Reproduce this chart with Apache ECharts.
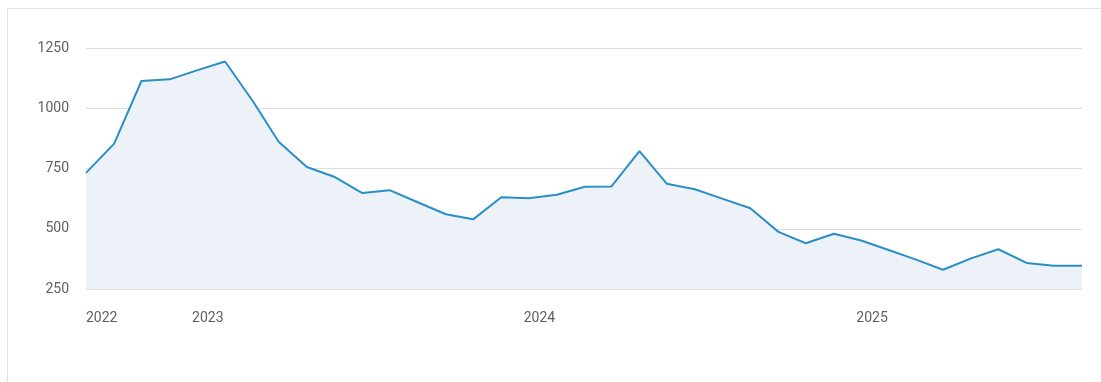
<!DOCTYPE html>
<html>
<head>
<meta charset="utf-8">
<script src="https://cdn.jsdelivr.net/npm/echarts@6/dist/echarts.min.js"></script>
<style>
  html, body { margin: 0; padding: 0; background: #fff; overflow: hidden; }
  #frame { position: absolute; left: 7px; top: 8px; width: 1200px; height: 500px;
           border-left: 1px solid #e2e2e2; border-top: 1px solid #e2e2e2; }
  #chart { position: absolute; left: 0; top: 0; width: 1101px; height: 382px; }
</style>
</head>
<body>
<div id="frame"></div>
<div id="chart"></div>
<script>
// Monthly dates (Aug 2022 – Aug 2025)
const dates = [
  '2022-08-20','2022-09-20','2022-10-20','2022-11-20','2022-12-20',
  '2023-01-20','2023-02-20','2023-03-20','2023-04-20','2023-05-20','2023-06-20',
  '2023-07-20','2023-08-20','2023-09-20','2023-10-20','2023-11-20','2023-12-20',
  '2024-01-20','2024-02-20','2024-03-20','2024-04-20','2024-05-20','2024-06-20',
  '2024-07-20','2024-08-20','2024-09-20','2024-10-20','2024-11-20','2024-12-20',
  '2025-01-20','2025-02-20','2025-03-20','2025-04-20','2025-05-20','2025-06-20',
  '2025-07-20','2025-08-20'
];
const values = [
  732, 853, 1113, 1120, 1157,
  1194, 1027, 861, 756, 716, 648,
  660, 610, 560, 539, 631, 627,
  641, 674, 675, 822, 687, 664,
  625, 585, 487, 440, 479, 451,
  411, 370, 330, 377, 415, 358,
  346, 346
];
const xTickDates = ['2022-08-20', '2023-01-01', '2024-01-01', '2025-01-01'];
const xTickLabels = ['2022', '2023', '2024', '2025'];
const yTicks = [250, 500, 750, 1000, 1250];

const t = s => new Date(s + 'T00:00:00Z').getTime();
const tickTimes = xTickDates.map(t);

const chart = echarts.init(document.getElementById('chart'), null, { renderer: 'canvas' });
chart.setOption({
  animation: false,
  grid: { left: 86, right: 19, top: 48, bottom: 93, containLabel: false },
  xAxis: {
    type: 'value',
    min: t(dates[0]),
    max: t(dates[dates.length - 1]),
    axisLine: { show: true, lineStyle: { color: '#dcdde3', width: 1 } },
    axisTick: { show: false },
    splitLine: { show: false },
    axisLabel: {
      customValues: tickTimes,
      alignMinLabel: 'left',
      margin: 22,
      color: '#5f5f5f',
      fontFamily: 'Roboto',
      fontSize: 14,
      formatter: function (v) {
        let best = 0, bd = Infinity;
        tickTimes.forEach((tt, i) => { const d = Math.abs(tt - v); if (d < bd) { bd = d; best = i; } });
        return xTickLabels[best];
      }
    }
  },
  yAxis: {
    type: 'value',
    min: yTicks[0],
    max: yTicks[yTicks.length - 1],
    interval: 250,
    axisLine: { show: false },
    axisTick: { show: false },
    splitLine: { show: true, lineStyle: { color: '#dcdde3', width: 1 } },
    axisLabel: {
      margin: 17, color: '#5f5f5f', fontFamily: 'Roboto', fontSize: 14,
      padding: [4, 0, 0, 0],
      formatter: v => String(v)
    }
  },
  series: [{
    type: 'line',
    data: dates.map((d, i) => [t(d), values[i]]),
    showSymbol: false,
    symbol: 'none',
    lineStyle: { color: '#2a8fc4', width: 2 },
    itemStyle: { color: '#2a8fc4' },
    areaStyle: { color: '#edf2f8', opacity: 1 }
  }]
});
</script>
</body>
</html>
